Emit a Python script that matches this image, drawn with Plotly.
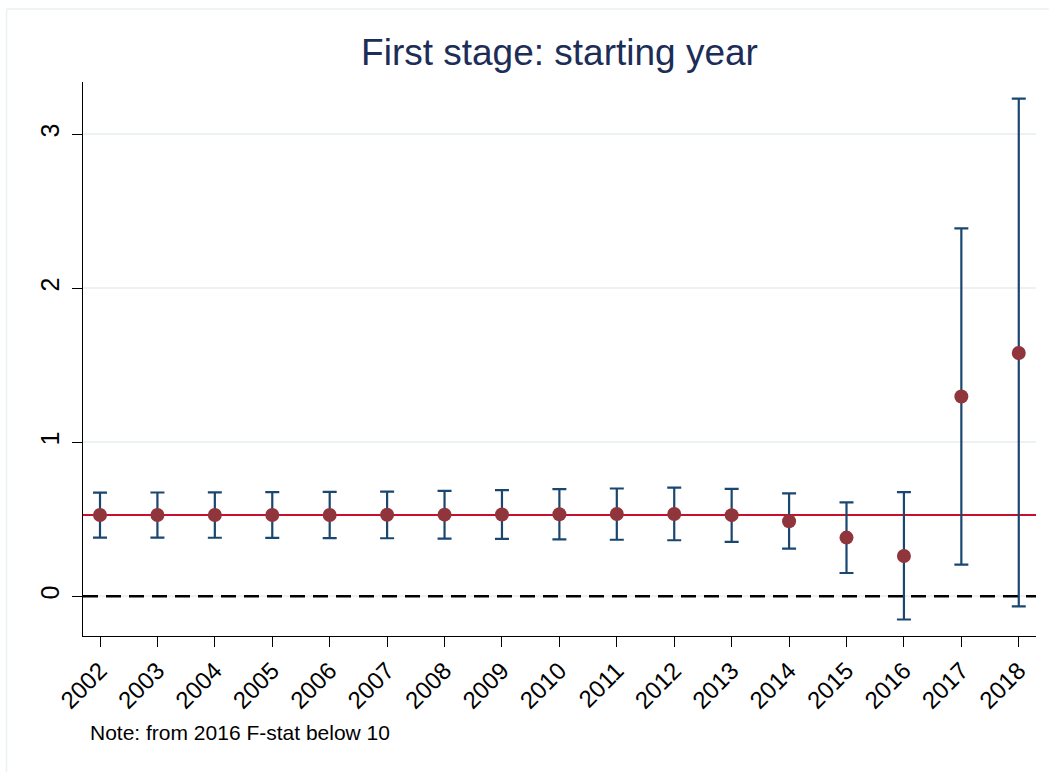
import plotly.graph_objects as go

years = list(range(2002, 2019))
coef = [0.528, 0.528, 0.528, 0.528, 0.528, 0.529, 0.530, 0.531, 0.533, 0.534,
        0.534, 0.527, 0.487, 0.381, 0.262, 1.297, 1.580]
lower = [0.381, 0.381, 0.380, 0.379, 0.378, 0.377, 0.375, 0.373, 0.370, 0.367,
         0.364, 0.353, 0.309, 0.151, -0.151, 0.206, -0.065]
upper = [0.673, 0.674, 0.675, 0.676, 0.678, 0.680, 0.685, 0.690, 0.696, 0.700,
         0.705, 0.698, 0.668, 0.610, 0.677, 2.390, 3.232]
ref_line = 0.528
ytick_vals = [0, 1, 2, 3]
title_text = "First stage: starting year"
note_text = "Note: from 2016 F-stat below 10"

FONT = "Arial, 'Liberation Sans', sans-serif"
NAVY = "#1a476f"
MAROON = "#90353b"
GRID = "#eaf2f3"

W, H = 1049, 772
L, R, T, B = 83, 13, 82, 136
pw, ph = W - L - R, H - T - B
x_range = [2001.704, 2018.30]
y_range = [-0.258, 3.34]

def px_x(px):
    return (px - L) / pw

def px_y(py):
    return (H - B - py) / ph

fig = go.Figure()

# reference lines as traces (above grid, below data)
fig.add_trace(go.Scatter(x=x_range, y=[0, 0], mode="lines",
                         line=dict(color="black", width=2.5, dash="15px,8px"),
                         showlegend=False, hoverinfo="skip"))
fig.add_trace(go.Scatter(x=x_range, y=[ref_line, ref_line], mode="lines",
                         line=dict(color="#c8102e", width=2),
                         showlegend=False, hoverinfo="skip"))

fig.add_trace(go.Scatter(
    x=years, y=coef, mode="markers",
    marker=dict(color=MAROON, size=14, line=dict(width=0)),
    error_y=dict(type="data", symmetric=False,
                 array=[u - c for u, c in zip(upper, coef)],
                 arrayminus=[c - l for c, l in zip(coef, lower)],
                 color=NAVY, thickness=2.2, width=7),
    showlegend=False, cliponaxis=False,
))

# outer border of graph region (light)
fig.add_shape(type="line", xref="paper", yref="paper",
              x0=px_x(6.5), x1=px_x(1060), y0=px_y(9), y1=px_y(9),
              line=dict(color=GRID, width=1.5))
fig.add_shape(type="line", xref="paper", yref="paper",
              x0=px_x(6.5), x1=px_x(6.5), y0=px_y(9), y1=px_y(790),
              line=dict(color=GRID, width=1.5))

fig.add_annotation(text=note_text, xref="paper", yref="paper",
                   x=px_x(88), y=px_y(732), xanchor="left", yanchor="middle",
                   showarrow=False, font=dict(family=FONT, size=21, color="black"))

fig.update_layout(
    width=W, height=H,
    margin=dict(l=L, r=R, t=T, b=B),
    paper_bgcolor="white", plot_bgcolor="white",
    title=dict(text=title_text, x=0.5, xref="paper", y=1 - 52 / H, yref="container",
               xanchor="center", yanchor="middle",
               font=dict(family=FONT, size=37, color="#1c2d57")),
    font=dict(family=FONT, color="black"),
    xaxis=dict(range=x_range, tickmode="array", tickvals=years,
               ticktext=[str(y) for y in years], tickangle=-45,
               ticks="outside", ticklen=10, tickwidth=1.3, tickcolor="black",
               showline=True, linecolor="black", linewidth=1.3,
               showgrid=False, zeroline=False,
               tickfont=dict(family=FONT, size=24, color="black")),
    yaxis=dict(range=y_range, tickmode="array", tickvals=ytick_vals,
               ticktext=[str(v) for v in ytick_vals], tickangle=-90,
               ticks="outside", ticklen=10, tickwidth=1.3, tickcolor="black",
               showline=True, linecolor="black", linewidth=1.3,
               showgrid=True, gridcolor=GRID, gridwidth=1.5, zeroline=False,
               ticklabelstandoff=3,
               tickfont=dict(family=FONT, size=25, color="black")),
)

fig.write_html("out.html")
